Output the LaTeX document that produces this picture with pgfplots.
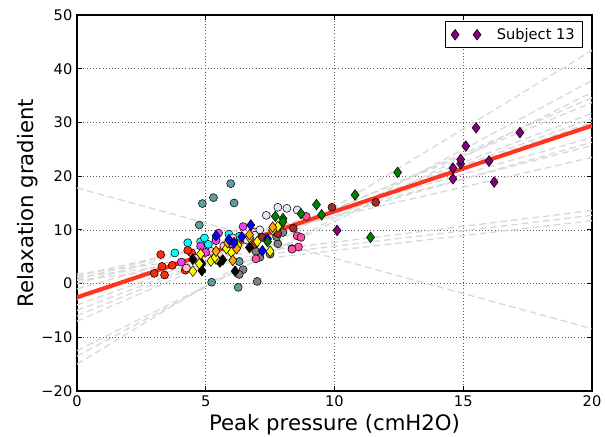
\documentclass[border=0pt]{standalone}
\usepackage{fontspec}
\setmainfont{DejaVu Sans}
\usepackage{pgfplots}
\pgfplotsset{compat=1.18}
\usetikzlibrary{calc}

\definecolor{fitred}{HTML}{FF3320}
\definecolor{ptred}{HTML}{FF2A10}
\definecolor{ptcyan}{HTML}{00FFFF}
\definecolor{ptteal}{HTML}{5F9EA0}
\definecolor{ptviolet}{HTML}{F040F0}
\definecolor{ptlpink}{HTML}{FFC0CB}
\definecolor{ptyellow}{HTML}{FFFF00}
\definecolor{ptorange}{HTML}{FFA500}
\definecolor{ptblue}{HTML}{0000FF}
\definecolor{ptgray}{HTML}{808080}
\definecolor{ptlav}{HTML}{E6E6FA}
\definecolor{ptbrown}{HTML}{A52A2A}
\definecolor{pthot}{HTML}{FF4FA8}
\definecolor{ptgreen}{HTML}{008000}
\definecolor{ptpurple}{HTML}{800080}
\definecolor{dashgray}{HTML}{D9D9D9}

\pgfplotsset{
  circ/.style={only marks, mark=*, mark size=3bp, mark options={draw=black, line width=0.4bp, fill=#1}},
  diam/.style={only marks, mark=diamond*, mark size=4bp, mark options={draw=black, line width=0.4bp, fill=#1}},
  fitline/.style={dashgray, line width=1bp, dash pattern=on 5bp off 3bp},
}

\begin{document}
\begin{tikzpicture}
\begin{axis}[
  scale only axis,
  width=386.25bp, height=282bp,
  xmin=0, xmax=20, ymin=-20, ymax=50,
  xtick={0,5,10,15,20},
  ytick={-20,-10,0,10,20,30,40,50},
  yticklabels={−20,−10,0,10,20,30,40,50},
  grid=major,
  major grid style={dotted, black!65, line width=0.5bp},
  tick align=inside,
  major tick length=4bp,
  axis line style={line width=0.8bp},
  tick style={black, line width=0.6bp},
  ticklabel style={font=\fontsize{11}{13}\selectfont},
  /pgf/number format/assume math mode=true,
  xlabel={Peak pressure (cmH2O)},
  ylabel={Relaxation gradient},
  label style={font=\fontsize{16}{19}\selectfont},
  xlabel style={at={(axis description cs:0.5,-0.09)}, anchor=center},
  ylabel style={at={(axis description cs:-0.095,0.5)}, anchor=center},
  legend style={at={(0.983,0.984)}, anchor=north east, draw=black, line width=0.8bp,
    font=\fontsize{11}{13}\selectfont, inner xsep=4bp, inner ysep=3bp},
  legend image code/.code={\draw[mark repeat=1, mark phase=1, #1] plot coordinates {(0cm,0cm) (0.58cm,0cm)};
    \path (1.02cm,0cm);},
]
% per-subject fits
\addplot[fitline, forget plot] coordinates {(0,17.8) (20,-8.4)};
\addplot[fitline, forget plot] coordinates {(0,1.8) (20,13.6)};
\addplot[fitline, forget plot] coordinates {(0,1.2) (20,12.7)};
\addplot[fitline, forget plot] coordinates {(0,0.6) (20,11.7)};
\addplot[fitline, forget plot] coordinates {(0,0.0) (20,27.2)};
\addplot[fitline, forget plot] coordinates {(0,-1.0) (20,26.3)};
\addplot[fitline, forget plot] coordinates {(0,0.8) (20,25.7)};
\addplot[fitline, forget plot] coordinates {(0,1.4) (20,23.5)};
\addplot[fitline, forget plot] coordinates {(0,-3.0) (20,30.0)};
\addplot[fitline, forget plot] coordinates {(0,-4.0) (20,30.7)};
\addplot[fitline, forget plot] coordinates {(0,-5.0) (20,31.7)};
\addplot[fitline, forget plot] coordinates {(0,-6.0) (20,33.7)};
\addplot[fitline, forget plot] coordinates {(0,-7.0) (20,34.6)};
\addplot[fitline, forget plot] coordinates {(0,-12.5) (20,35.6)};
\addplot[fitline, forget plot] coordinates {(0,-13.5) (20,37.8)};
\addplot[fitline, forget plot] coordinates {(0,-15.0) (20,43.4)};

% subjects
\addplot[circ=ptred, forget plot] coordinates {(3.25,5.4) (3.3,3.2) (3.0,1.9) (3.4,1.6) (3.7,3.4) (4.2,2.5) (4.45,5.7) (4.3,6.2)};
\addplot[circ=ptteal, forget plot] coordinates {(4.87,14.9) (5.3,16.0) (5.97,18.6) (6.1,15.0) (4.75,10.9) (5.23,0.25) (6.26,-0.7) (6.3,4.1)};
\addplot[circ=ptcyan, forget plot] coordinates {(3.8,5.7) (4.3,7.6) (4.8,7.8) (4.95,8.5) (5.1,7.3) (5.9,9.2) (5.4,8.3) (6.3,8.8)};
\addplot[circ=ptlpink, forget plot] coordinates {(4.25,2.9) (4.6,4.7) (6.05,8.5) (5.2,6.0) (6.9,9.6) (5.7,7.0)};
\addplot[circ=ptviolet, forget plot] coordinates {(4.05,4.0) (4.8,7.0) (5.5,9.4) (6.45,10.6) (5.4,8.0) (5.0,5.8) (6.0,7.3)};
\addplot[circ=ptgray, forget plot] coordinates {(7.0,0.4) (6.45,2.6) (6.3,1.7) (7.1,4.9) (7.5,5.5) (7.8,7.4) (8.35,6.5) (7.75,8.7) (6.95,6.0) (8.0,9.5)};
\addplot[circ=ptlav, forget plot] coordinates {(7.8,14.2) (8.15,14.0) (7.35,12.7) (8.55,13.7) (7.1,10.0) (6.9,9.0) (6.6,8.1)};
\addplot[circ=ptbrown, forget plot] coordinates {(9.9,14.2) (11.6,15.1) (7.8,9.3) (7.2,8.6) (8.4,10.3) (6.9,7.3)};
\addplot[circ=pthot, forget plot] coordinates {(8.9,12.5) (8.55,8.9) (8.6,6.8) (8.35,6.4) (6.95,4.6) (8.7,8.6)};
\addplot[diam=black, forget plot] coordinates {(4.85,2.4) (4.85,3.7) (5.55,4.0) (5.66,4.4) (6.14,2.3) (6.7,6.7) (4.5,4.5)};
\addplot[diam=ptyellow, forget plot] coordinates {(4.5,2.3) (4.75,3.7) (4.8,5.5) (5.2,4.2) (5.4,4.6) (5.36,4.9) (6.0,5.8) (6.25,7.1) (6.7,8.6) (7.0,7.8) (7.5,6.0) (7.8,10.6) (7.6,10.0) (5.8,6.5)};
\addplot[diam=ptorange, forget plot] coordinates {(6.05,4.3) (5.85,7.6) (6.7,9.1) (7.6,10.5) (6.2,6.5) (5.4,6.0)};
\addplot[diam=ptblue, forget plot] coordinates {(6.75,10.9) (6.4,8.7) (7.2,6.1) (5.4,8.9) (5.9,8.2) (6.1,7.6) (7.4,8.3)};
\addplot[diam=ptgreen, forget plot] coordinates {(7.7,12.5) (8.0,12.1) (8.7,13.0) (9.3,14.7) (9.5,12.8) (10.8,16.5) (12.45,20.7) (11.4,8.6) (7.4,7.8) (8.0,11.5)};
\addplot[diam=ptpurple] coordinates {(10.1,9.9) (14.6,19.5) (14.6,21.5) (14.9,22.3) (14.9,23.1) (15.1,25.6) (15.5,29.0) (16.0,22.8) (16.2,18.9) (17.2,28.1)};
\addlegendentry{Subject 13}

% pooled fit
\addplot[fitred, line width=3bp, forget plot] coordinates {(0,-2.55) (20,29.4)};
\end{axis}
\pgfresetboundingbox
\path ($(current axis.south west)+(-57.75bp,-34.5bp)$) rectangle ($(current axis.north east)+(9.75bp,11.25bp)$);
\end{tikzpicture}
\end{document}
